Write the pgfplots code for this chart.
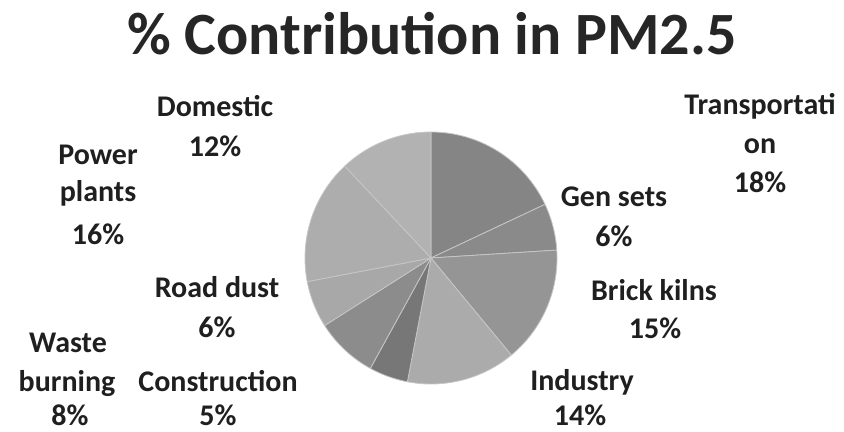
\documentclass[border=0pt]{standalone}
\usepackage{pgfplots}
\pgfplotsset{compat=1.18}
\usepackage{fontspec}
\setmainfont{Carlito}
\definecolor{cTr}{gray}{0.52}
\definecolor{cGen}{gray}{0.54}
\definecolor{cBrick}{gray}{0.585}
\definecolor{cInd}{gray}{0.67}
\definecolor{cCon}{gray}{0.465}
\definecolor{cWaste}{gray}{0.55}
\definecolor{cRoad}{gray}{0.66}
\definecolor{cPow}{gray}{0.68}
\definecolor{cDom}{gray}{0.70}
\tikzset{lab/.style={anchor=base, font=\bfseries\fontsize{15}{18}\selectfont, text=black!88, inner sep=0pt}}
\begin{document}
\begin{tikzpicture}
\begin{axis}[
  width=422pt, height=216pt, scale only axis,
  xmin=0, xmax=844, ymin=0, ymax=432, y dir=reverse,
  hide axis, clip=false,
]
\addplot[draw=none] coordinates {(0,0) (844,432)};
% slices: percentages (cumulative, clockwise from 12 o'clock)
% Transportation 18, Gen sets 6, Brick kilns 15, Industry 14, Construction 5,
% Waste burning 8, Road dust 6, Power plants 16, Domestic 12
\def\sl#1#2#3{\addplot[fill=#3, draw=white!55!gray, line width=0.4pt, domain=#1:#2, samples=60]
  ({431+126*sin(3.6*x)}, {258-126*cos(3.6*x)}) -- (axis cs:431,258) -- cycle;}
\sl{0}{18}{cTr}
\sl{18}{24}{cGen}
\sl{24}{39}{cBrick}
\sl{39}{53}{cInd}
\sl{53}{58}{cCon}
\sl{58}{66}{cWaste}
\sl{66}{72}{cRoad}
\sl{72}{88}{cPow}
\sl{88}{100}{cDom}
% title
\node[anchor=base, inner sep=0pt, font=\bfseries\fontsize{30}{36}\selectfont, text=black!85] at (axis cs:432,55) {\% Contribution in PM2.5};
% labels
\node[lab] at (axis cs:760,115) {Transportati};
\node[lab] at (axis cs:760,154) {on};
\node[lab] at (axis cs:760,193) {18\%};
\node[lab] at (axis cs:614,207) {Gen sets};
\node[lab] at (axis cs:614,247) {6\%};
\node[lab] at (axis cs:654,300) {Brick kilns};
\node[lab] at (axis cs:655,338) {15\%};
\node[lab] at (axis cs:582,390) {Industry};
\node[lab] at (axis cs:580,425) {14\%};
\node[lab] at (axis cs:218,391) {Construction};
\node[lab] at (axis cs:218,425) {5\%};
\node[lab] at (axis cs:68,352) {Waste};
\node[lab] at (axis cs:67,391) {burning};
\node[lab] at (axis cs:70,425) {8\%};
\node[lab] at (axis cs:217,298) {Road dust};
\node[lab] at (axis cs:217,337) {6\%};
\node[lab] at (axis cs:98,165) {Power};
\node[lab] at (axis cs:98,202) {plants};
\node[lab] at (axis cs:98,245) {16\%};
\node[lab] at (axis cs:215,117) {Domestic};
\node[lab] at (axis cs:215,157) {12\%};
\end{axis}
\end{tikzpicture}
\end{document}
